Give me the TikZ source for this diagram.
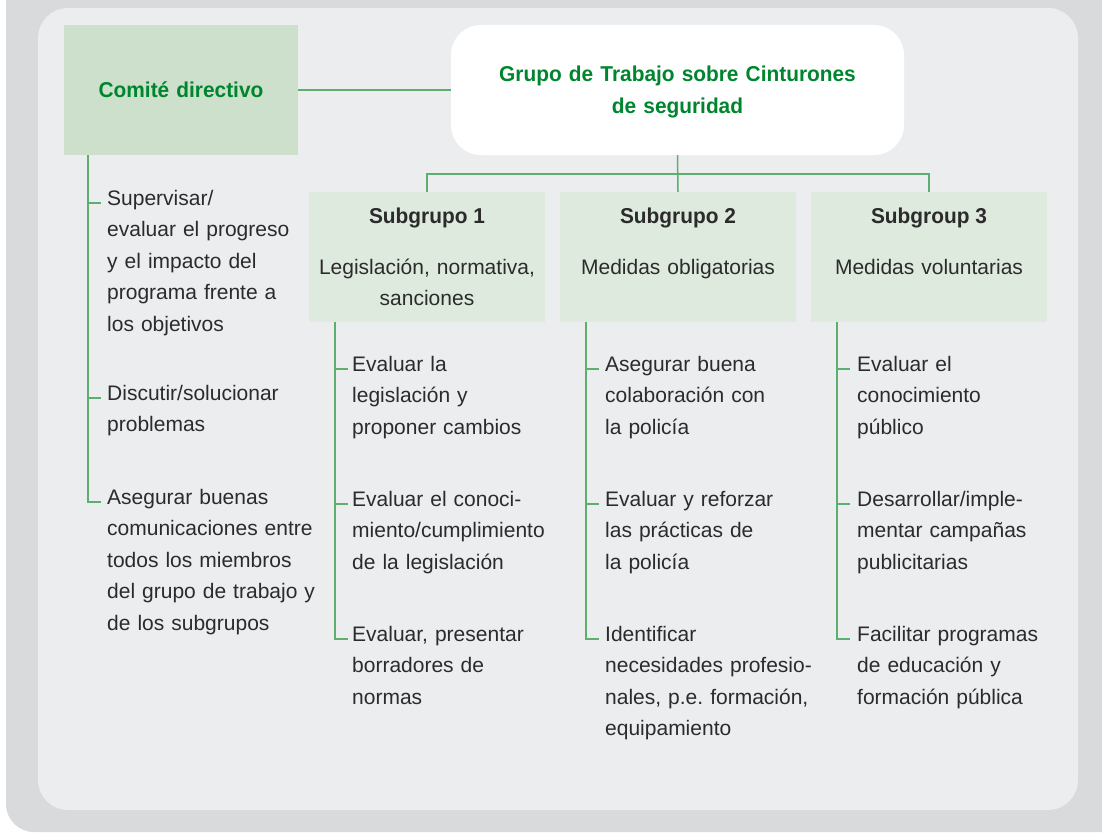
\documentclass[tikz,border=0pt]{standalone}
\usepackage{fontspec}
\setmainfont{Liberation Sans}
\newfontfamily\headfont[FakeStretch=0.97]{Liberation Sans}
\definecolor{outergrey}{HTML}{D9DADC}
\definecolor{innergrey}{HTML}{ECEDEF}
\definecolor{comfill}{HTML}{CCE0CC}
\definecolor{subfill}{HTML}{DFEADF}
\definecolor{linegreen}{HTML}{5EAF6E}
\definecolor{titlegreen}{HTML}{00852F}
\definecolor{txt}{HTML}{2B2B2B}
\frenchspacing
\begin{document}
\begin{tikzpicture}[x=1pt,y=-1pt,
  conn/.style={draw=linegreen,line width=1.5pt},
  body/.style={font=\fontsize{21}{31.5}\selectfont\frenchspacing, text=txt, inner sep=0pt, anchor=base west, align=left, text width=250pt},
  bodyc/.style={font=\fontsize{21}{31.5}\selectfont, text=txt, inner sep=0pt, anchor=base, align=center, text width=236pt},
  headg/.style={font=\headfont\bfseries\fontsize{21.5}{31.5}\selectfont, text=titlegreen, inner sep=0pt, anchor=base, align=center, text width=440pt},
  headk/.style={font=\headfont\bfseries\fontsize{21.5}{31.5}\selectfont, text=txt, inner sep=0pt, anchor=base},
  combox/.style={fill=comfill, draw=none, minimum width=234pt, minimum height=130pt, inner sep=0pt},
  titlebox/.style={fill=white, draw=none, rounded corners=30pt, minimum width=453pt, minimum height=130pt, inner sep=0pt},
  subbox/.style={fill=subfill, draw=none, minimum width=236pt, minimum height=130pt, inner sep=0pt}
]
\useasboundingbox (0,0) rectangle (1102,832);
\fill[outergrey, rounded corners=28pt] (6,-60) rectangle (1160,832);
\fill[innergrey, rounded corners=30pt] (38,8) rectangle (1078,810);

% top boxes
\node[combox] (comite) at (181,90) {};
\node[headg, text width=230pt] (comitelabel) at (181,98) {Comité directivo};
\node[titlebox] (title) at (677.5,90) {};
\node[headg] (titlelabel) at (677.5,82) {Grupo de Trabajo sobre Cinturones\\de seguridad};

% subgroup boxes
\node[subbox] (sg1) at (427,257) {};
\node[subbox] (sg2) at (678,257) {};
\node[subbox] (sg3) at (929,257) {};
\node[headk] (sg1h) at (427,223) {Subgrupo 1};
\node[headk] (sg2h) at (678,223) {Subgrupo 2};
\node[headk] (sg3h) at (929,223) {Subgroup 3};
\node[bodyc] (sg1d) at (427,274) {Legislación, normativa,\\sanciones};
\node[bodyc] (sg2d) at (678,274) {Medidas obligatorias};
\node[bodyc] (sg3d) at (929,274) {Medidas voluntarias};

% connectors
\draw[conn] (comite.east) -- (title.west);
\draw[conn] (title.south) -- (sg2.north);
\draw[conn] (sg1.north) -- ++(0,-18) -| (sg3.north);

% column 1 (Comité)
\coordinate (c1top) at (88,155);
\coordinate (c1t1) at (101,203);
\coordinate (c1t2) at (101,398);
\coordinate (c1t3) at (101,502);
\draw[conn] (c1top) |- (c1t3);
\draw[conn] (c1top |- c1t1) -- (c1t1);
\draw[conn] (c1top |- c1t2) -- (c1t2);
\node[body] (c1i1) at (107,205) {Supervisar/\\evaluar el progreso\\y el impacto del\\programa frente a\\los objetivos};
\node[body] (c1i2) at (107,400) {Discutir/solucionar\\problemas};
\node[body] (c1i3) at (107,504) {Asegurar buenas\\comunicaciones entre\\todos los miembros\\del grupo de trabajo y\\de los subgrupos};

% column SG1
\coordinate (s1top) at (335,322);
\coordinate (s1t1) at (348,369);
\coordinate (s1t2) at (348,504);
\coordinate (s1t3) at (348,639);
\draw[conn] (s1top) |- (s1t3);
\draw[conn] (s1top |- s1t1) -- (s1t1);
\draw[conn] (s1top |- s1t2) -- (s1t2);
\node[body] (s1i1) at (352,371) {Evaluar la\\legislación y\\proponer cambios};
\node[body] (s1i2) at (352,506) {Evaluar el conoci-\\miento/cumplimiento\\de la legislación};
\node[body] (s1i3) at (352,641) {Evaluar, presentar\\borradores de\\normas};

% column SG2
\coordinate (s2top) at (586,322);
\coordinate (s2t1) at (599,369);
\coordinate (s2t2) at (599,504);
\coordinate (s2t3) at (599,639);
\draw[conn] (s2top) |- (s2t3);
\draw[conn] (s2top |- s2t1) -- (s2t1);
\draw[conn] (s2top |- s2t2) -- (s2t2);
\node[body] (s2i1) at (605,371) {Asegurar buena\\colaboración con\\la policía};
\node[body] (s2i2) at (605,506) {Evaluar y reforzar\\las prácticas de\\la policía};
\node[body] (s2i3) at (605,641) {Identificar\\necesidades profesio-\\nales, p.e. formación,\\equipamiento};

% column SG3
\coordinate (s3top) at (837,322);
\coordinate (s3t1) at (850,369);
\coordinate (s3t2) at (850,504);
\coordinate (s3t3) at (850,639);
\draw[conn] (s3top) |- (s3t3);
\draw[conn] (s3top |- s3t1) -- (s3t1);
\draw[conn] (s3top |- s3t2) -- (s3t2);
\node[body] (s3i1) at (857,371) {Evaluar el\\conocimiento\\público};
\node[body] (s3i2) at (857,506) {Desarrollar/imple-\\mentar campañas\\publicitarias};
\node[body] (s3i3) at (857,641) {Facilitar programas\\de educación y\\formación pública};
\end{tikzpicture}
\end{document}
